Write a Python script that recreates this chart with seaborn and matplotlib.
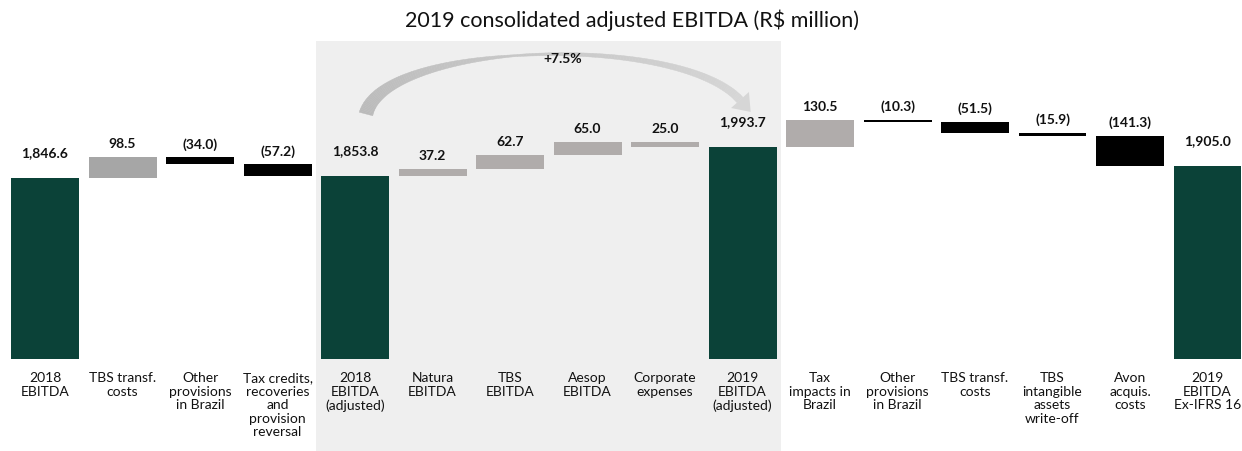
import numpy as np
import pandas as pd
import matplotlib
matplotlib.use("Agg")
import matplotlib.pyplot as plt
import seaborn as sns
from matplotlib.patches import Rectangle, Polygon
from matplotlib.collections import PolyCollection
import matplotlib.transforms as mtransforms

# ---------------- data ----------------
categories = [
    "2018\nEBITDA",
    "TBS transf.\ncosts",
    "Other\nprovisions\nin Brazil",
    "Tax credits,\nrecoveries\nand\nprovision\nreversal",
    "2018\nEBITDA\n(adjusted)",
    "Natura\nEBITDA",
    "TBS\nEBITDA",
    "Aesop\nEBITDA",
    "Corporate\nexpenses",
    "2019\nEBITDA\n(adjusted)",
    "Tax\nimpacts in\nBrazil",
    "Other\nprovisions\nin Brazil",
    "TBS transf.\ncosts",
    "TBS\nintangible\nassets\nwrite-off",
    "Avon\nacquis.\ncosts",
    "2019\nEBITDA\nEx-IFRS 16",
]
values = [1846.6, 98.5, -34.0, -57.2, 1853.8, 37.2, 62.7, 65.0, -25.0,
          1993.7, 130.5, -10.3, -51.5, -15.9, -141.3, 1905.0]
is_total = [True, False, False, False, True, False, False, False, False,
            True, False, False, False, False, False, True]
value_labels = ["1,846.6", "98.5", "(34.0)", "(57.2)", "1,853.8", "37.2", "62.7",
                "65.0", "25.0", "1,993.7", "130.5", "(10.3)", "(51.5)", "(15.9)",
                "(141.3)", "1,905.0"]
growth_label = "+7.5%"
title = "2019 consolidated adjusted EBITDA (R\\$ million)"

# ---------------- style ----------------
sns.set_theme(style="white")
plt.rcParams["font.family"] = ["Lato", "DejaVu Sans"]

GREEN = "#0b4238"
GRAY_L = "#a6a6a6"
GRAY_M = "#b0acab"
BLACK = "#000000"
SHADE = "#efefef"
W, H = 1242, 452

# waterfall geometry from the values
bottoms, heights, colors = [], [], []
level = 0.0
for i, (v, t) in enumerate(zip(values, is_total)):
    if t:
        bottoms.append(0.0)
        heights.append(v)
        colors.append(GREEN)
        level = v
    else:
        bottoms.append(level)
        heights.append(v)
        if v >= 0 or i == 8:
            colors.append(GRAY_L if i < 4 else GRAY_M)
        else:
            colors.append(BLACK)
        level += v

df = pd.DataFrame({"pos": np.arange(len(values)), "height": heights})

fig = plt.figure(figsize=(W / 100, H / 100), dpi=100)
ax = fig.add_axes([0.0, 92 / H, 1.0, 318 / H])

sns.barplot(data=df, x="pos", y="height", bottom=np.array(bottoms),
            width=0.877, errorbar=None, color=GRAY_L, linewidth=0,
            ax=ax, zorder=2)
for p, c in zip(ax.patches, colors):
    p.set_facecolor(c)
    p.set_edgecolor(c)

ax.set_xlim(-0.581, 15.445)
ax.set_ylim(987.6, 2496.8)

# shaded middle section
trans = mtransforms.blended_transform_factory(ax.transData, ax.transAxes)
ax.add_patch(Rectangle((3.5, -0.30), 6.0, 1.30, transform=trans,
                       facecolor=SHADE, edgecolor="none", clip_on=False, zorder=0))

# value labels
for i, (b, h, lab, t) in enumerate(zip(bottoms, heights, value_labels, is_total)):
    top = max(b, b + h)
    off = 26 if t else 14
    ax.annotate(lab, (i, top), xytext=(0, off), textcoords="offset pixels",
                ha="center", va="center", fontsize=10, fontweight="bold",
                color="#111111", zorder=5)

# curved, tapered growth arrow (decoration built in pixel space)
def px(x, y):
    return np.array([x, H - y], dtype=float)

P0, P1, P2, P3 = px(366, 115), px(385, 42), px(680, 34), px(740, 101)
n = 160
t = np.linspace(0, 1, n)[:, None]
curve = ((1 - t) ** 3) * P0 + 3 * ((1 - t) ** 2) * t * P1 + 3 * (1 - t) * t ** 2 * P2 + t ** 3 * P3
deriv = 3 * ((1 - t) ** 2) * (P1 - P0) + 6 * (1 - t) * t * (P2 - P1) + 3 * t ** 2 * (P3 - P2)
tang = deriv / np.linalg.norm(deriv, axis=1, keepdims=True)
norm = np.column_stack([-tang[:, 1], tang[:, 0]])
tt = t[:, 0]
width = np.interp(tt, [0, 0.45, 1], [14, 2, 8])
left = curve + norm * (width[:, None] / 2)
right = curve - norm * (width[:, None] / 2)
inv = ax.transData.inverted()
left_d, right_d = inv.transform(left), inv.transform(right)
quads = [[left_d[k], left_d[k + 1], right_d[k + 1], right_d[k]] for k in range(n - 1)]
c0, c1 = np.array([0.73, 0.73, 0.73]), np.array([0.84, 0.84, 0.84])
qcols = [tuple(c0 + (c1 - c0) * (k / (n - 2))) for k in range(n - 1)]
ax.add_collection(PolyCollection(quads, facecolors=qcols, edgecolors=qcols,
                                 linewidths=0.3, zorder=3))
end_t, end_n = tang[-1], norm[-1]
head = np.array([P3 + end_n * 12, P3 + end_t * 16, P3 - end_n * 12])
ax.add_patch(Polygon(inv.transform(head), closed=True, facecolor=tuple(c1),
                     edgecolor="none", zorder=3))
gx, gy = inv.transform(px(563, 59))
ax.text(gx, gy, growth_label, ha="center", va="center", fontsize=10,
        fontweight="bold", color="#111111", zorder=5)

# category labels
ax.set_xticks(np.arange(len(categories)))
ax.set_xticklabels(categories, fontsize=10, color="#111111", linespacing=1.15,
                   va="top")
ax.tick_params(axis="x", length=0, pad=9)
ax.set_yticks([])
ax.set_xlabel("")
ax.set_ylabel("")
for s in ax.spines.values():
    s.set_visible(False)
ax.patch.set_alpha(0)

fig.text(632 / W, 1 - 20 / H, title, ha="center", va="center",
         fontsize=15.5, color="#111111")

fig.savefig("out.png", dpi=100)
